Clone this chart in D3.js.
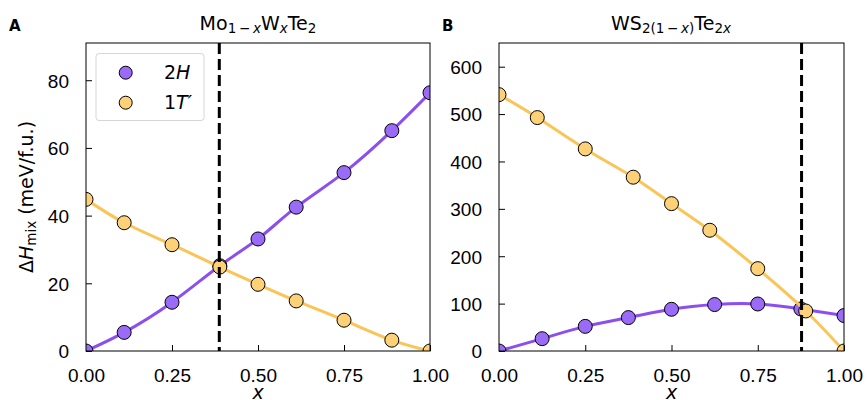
<!DOCTYPE html>
<html>
<head>
<meta charset="utf-8">
<title>mixing enthalpy</title>
<script src="https://d3js.org/d3.v7.min.js"></script>
<style>
    body { margin: 0; background: #ffffff; }
    svg { font-family: "DejaVu Sans", sans-serif; }
    .tick text { font-size: 19px; fill: #000; }
    .tick line { stroke: #000; stroke-width: 1; }
    .domain { display: none; }
</style>
</head>
<body>
<div id="chart"></div>
<script>
// data
var xNinths = [0, 0.111, 0.25, 0.389, 0.5, 0.611, 0.75, 0.889, 1]
var xEighths = [0, 0.125, 0.25, 0.375, 0.5, 0.625, 0.75, 0.875, 1]

var a2H = [0, 5.5, 14.4, 25.2, 33.1, 42.5, 52.7, 65.1, 76.3]
var a1T = [44.8, 37.9, 31.4, 24.8, 19.7, 14.8, 9.1, 3.2, 0]
var b2H = [0, 26, 52, 70.5, 88, 98, 99.2, 88.7, 74.8]
var b1T = [541, 492.6, 426.5, 366.8, 311, 254.8, 173.8, 84.5, 0]

var xTicks = [0, 0.25, 0.5, 0.75, 1]
var aYTicks = [0, 20, 40, 60, 80]
var bYTicks = [0, 100, 200, 300, 400, 500, 600]

var seriesNames = ["2H", "1T'"]
var lineColors = ["#8b4ff0", "#fbc456"]
var dotColors = ["#9a6bf7", "#fdd178"]

var W = 868, H = 400
var svg = d3.select("#chart").append("svg")
    .attr("width", W).attr("height", H)

var panels = [
    {id: "A", left: 86, right: 430, ymax: 91, yTicks: aYTicks,
     s2H: {x: xNinths, y: a2H}, s1T: {x: xNinths, y: a1T}, vline: 0.3875},
    {id: "B", left: 499, right: 844, ymax: 650, yTicks: bYTicks,
     s2H: {x: xEighths, y: b2H}, s1T: {x: xNinths, y: b1T}, vline: 0.877}
]
var plotTop = 43, plotBottom = 351

panels.forEach(function(p, i) {
    var x = d3.scaleLinear().domain([0, 1]).range([p.left, p.right])
    var y = d3.scaleLinear().domain([0, p.ymax]).range([plotBottom, plotTop])
    var g = svg.append("g")

    g.append("clipPath").attr("id", "clip" + p.id)
        .append("rect")
        .attr("x", p.left).attr("y", plotTop)
        .attr("width", p.right - p.left).attr("height", plotBottom - plotTop)

    g.append("g")
        .attr("transform", "translate(0," + plotBottom + ")")
        .call(d3.axisBottom(x).tickValues(xTicks).tickFormat(d3.format(".2f"))
            .tickSizeInner(-6).tickSizeOuter(0).tickPadding(18))

    g.append("g")
        .attr("transform", "translate(" + p.left + ",0)")
        .call(d3.axisLeft(y).tickValues(p.yTicks)
            .tickSizeInner(-6).tickSizeOuter(0).tickPadding(17))
        .selectAll("text").attr("dy", "0.36em")

    var plot = g.append("g").attr("clip-path", "url(#clip" + p.id + ")")
    var line = d3.line().curve(d3.curveNatural)
        .x(function(d) { return x(d[0]) })
        .y(function(d) { return y(d[1]) })

    ;[p.s2H, p.s1T].forEach(function(s, k) {
        var pts = d3.zip(s.x, s.y)
        plot.append("path")
            .datum(pts)
            .attr("d", line)
            .attr("fill", "none")
            .attr("stroke", lineColors[k])
            .attr("stroke-width", 3)
        plot.selectAll(".dot" + k)
            .data(pts)
            .enter().append("circle")
            .attr("cx", function(d) { return x(d[0]) })
            .attr("cy", function(d) { return y(d[1]) })
            .attr("r", 7)
            .attr("fill", dotColors[k])
            .attr("stroke", "#000")
            .attr("stroke-width", 1)
    })

    plot.append("line")
        .attr("x1", x(p.vline)).attr("x2", x(p.vline))
        .attr("y1", plotTop).attr("y2", plotBottom)
        .attr("stroke", "#000")
        .attr("stroke-width", 3)
        .attr("stroke-dasharray", "11,5")

    // frame
    g.append("rect")
        .attr("x", p.left).attr("y", plotTop)
        .attr("width", p.right - p.left).attr("height", plotBottom - plotTop)
        .attr("fill", "none").attr("stroke", "#000").attr("stroke-width", 1)

    // panel letter
    g.append("text")
        .attr("x", i == 0 ? 9 : 442).attr("y", 31)
        .attr("font-size", 15).attr("font-weight", "bold")
        .text(p.id)

    // x label
    g.append("text")
        .attr("x", (p.left + p.right) / 2).attr("y", 399)
        .attr("text-anchor", "middle")
        .attr("font-size", 19).attr("font-style", "italic")
        .text("x")
})

// titles with subscripts
function addRich(parent, parts) {
    parts.forEach(function(t) {
        var ts = parent.append("tspan").text(t.s)
        if (t.sub) ts.attr("font-size", 13.5)
        if (t.it) ts.attr("font-style", "italic")
        if (t.dy) ts.attr("dy", t.dy)
    })
}

var titleA = svg.append("text").attr("x", 258).attr("y", 30)
    .attr("text-anchor", "middle").attr("font-size", 19)
addRich(titleA, [
    {s: "Mo"}, {s: "1\u2009\u2212\u2009", sub: true, dy: 3}, {s: "x", sub: true, it: true},
    {s: "W", dy: -3}, {s: "x", sub: true, it: true, dy: 3},
    {s: "Te", dy: -3}, {s: "2", sub: true, dy: 3}
])

var titleB = svg.append("text").attr("x", 671).attr("y", 30)
    .attr("text-anchor", "middle").attr("font-size", 19)
addRich(titleB, [
    {s: "WS"}, {s: "2(1\u2009\u2212\u2009", sub: true, dy: 3}, {s: "x", sub: true, it: true},
    {s: ")", sub: true},
    {s: "Te", dy: -3}, {s: "2", sub: true, dy: 3}, {s: "x", sub: true, it: true}
])

// y label
var yl = svg.append("text")
    .attr("transform", "translate(33,197) rotate(-90)")
    .attr("text-anchor", "middle").attr("font-size", 19)
addRich(yl, [
    {s: "\u0394"}, {s: "H", it: true}, {s: "mix", sub: true, dy: 3},
    {s: " (meV/f.u.)", dy: -3}
])

// legend
var lg = svg.append("g")
lg.append("rect")
    .attr("x", 96).attr("y", 53.5).attr("width", 108).attr("height", 67)
    .attr("rx", 3)
    .attr("fill", "#fff").attr("fill-opacity", 0.8)
    .attr("stroke", "#d6d6d6").attr("stroke-width", 1)
var legendLabels = [[{s: "2"}, {s: "H", it: true}], [{s: "1"}, {s: "T\u2032", it: true}]]
seriesNames.forEach(function(name, k) {
    var cy = 72.7 + k * 30
    lg.append("circle")
        .attr("cx", 125.7).attr("cy", cy).attr("r", 6.5)
        .attr("fill", dotColors[k]).attr("stroke", "#000").attr("stroke-width", 1)
    var t = lg.append("text").attr("x", 164).attr("y", cy + 6.5).attr("font-size", 19)
    addRich(t, legendLabels[k])
})
</script>
</body>
</html>
